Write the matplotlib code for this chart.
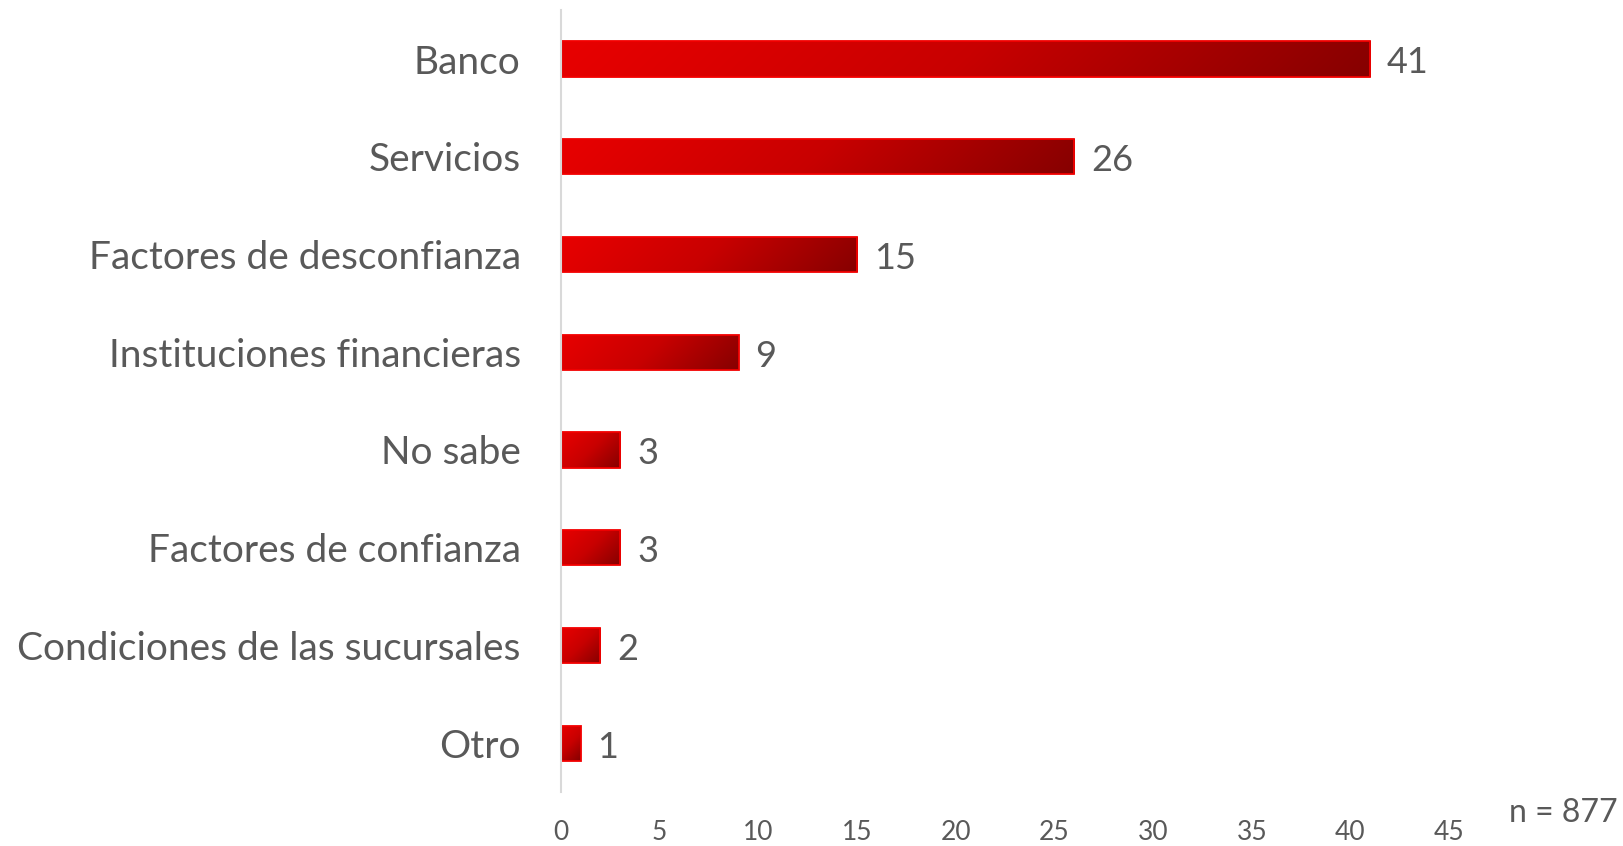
import numpy as np
import matplotlib
matplotlib.use("Agg")
import matplotlib.pyplot as plt
from matplotlib.colors import LinearSegmentedColormap
from matplotlib.patches import Rectangle

categories = ["Banco", "Servicios", "Factores de desconfianza", "Instituciones financieras",
              "No sabe", "Factores de confianza", "Condiciones de las sucursales", "Otro"]
values = [41, 26, 15, 9, 3, 3, 2, 1]
xticks = [0, 5, 10, 15, 20, 25, 30, 35, 40, 45]
note = "n = 877"

FONT = "Lato"
TXT = "#595959"
cmap = LinearSegmentedColormap.from_list("redgrad", ["#E80000", "#C80000", "#860000"])

fig = plt.figure(figsize=(16.24, 8.46), dpi=100)
ax = fig.add_axes([0.3454, 0.0638, 0.8923 - 0.3454, 0.988 - 0.0638])
n = len(categories)
ypos = np.arange(n)
ax.set_xlim(0, 45)
ax.set_ylim(n - 0.5, -0.5)
bar_h = 0.36

fig.canvas.draw()
for y, v in zip(ypos, values):
    x0, x1 = 0, v
    y0, y1 = y - bar_h / 2, y + bar_h / 2
    p0 = ax.transData.transform((x0, y0))
    p1 = ax.transData.transform((x1, y1))
    wpx = abs(p1[0] - p0[0])
    hpx = abs(p1[1] - p0[1])
    nx = max(int(wpx), 2)
    ny = max(int(hpx), 2)
    xs = np.linspace(0, wpx, nx)
    ys = np.linspace(0, hpx, ny)
    X, Y = np.meshgrid(xs, ys)
    grad = (X + Y) / (wpx + hpx)
    im = ax.imshow(grad, cmap=cmap, vmin=0, vmax=1, extent=(x0, x1, y1, y0),
                   aspect="auto", interpolation="bilinear", zorder=2, origin="upper")
    rect = Rectangle((x0, y0), v, bar_h, facecolor="none", edgecolor="#F20000",
                     linewidth=1.3, zorder=3)
    ax.add_patch(rect)
    im.set_clip_path(rect)
    ax.text(v + 0.85, y + 0.04, str(v), va="center", ha="left", fontsize=26,
            color=TXT, family=FONT)

ax.set_yticks(ypos)
ax.set_yticklabels(categories, fontsize=28, color=TXT, family=FONT)
ax.set_xticks(xticks)
ax.set_xticklabels([str(t) for t in xticks], fontsize=19, color=TXT, family=FONT)
ax.tick_params(axis="y", length=0, pad=29)
ax.tick_params(axis="x", length=0, pad=20)
for s in ["top", "right", "bottom"]:
    ax.spines[s].set_visible(False)
ax.spines["left"].set_color("#D9D9D9")
ax.spines["left"].set_linewidth(1.5)
ax.spines["left"].set_zorder(4)

fig.text(1618 / 1624, 1 - 813 / 846, note, ha="right", va="center", fontsize=23,
         color=TXT, family=FONT)

fig.savefig("out.png", dpi=100)
